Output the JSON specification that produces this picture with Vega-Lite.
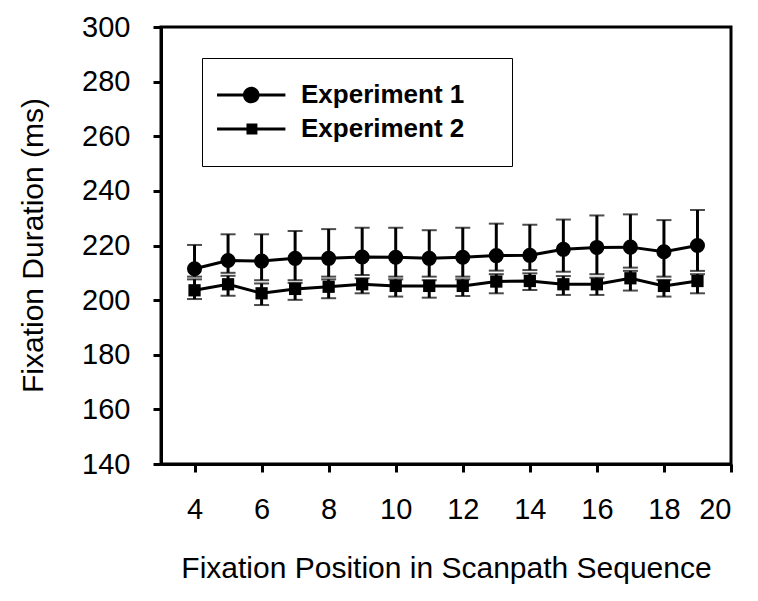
{
  "$schema": "https://vega.github.io/schema/vega-lite/v6.json",
  "width": 570,
  "height": 437,
  "autosize": {"type": "none"},
  "padding": {"left": 161, "top": 27, "right": 27, "bottom": 137},
  "background": "white",
  "config": {
    "view": {"stroke": "black", "strokeWidth": 3},
    "font": "Liberation Sans",
    "axis": {
      "grid": false,
      "domainColor": "black",
      "domainWidth": 3,
      "tickColor": "black",
      "tickWidth": 3,
      "tickSize": 8,
      "labelFont": "Liberation Sans",
      "labelFontSize": 29,
      "labelColor": "black",
      "labelPadding": 23,
      "titleFont": "Liberation Sans",
      "titleFontSize": 30,
      "titleFontWeight": "normal",
      "titleColor": "black"
    }
  },
  "data": {
    "values": [
      {"pos": 4, "series": "Experiment 1", "mean": 211.5, "lo": 208.6, "hi": 220.2},
      {"pos": 5, "series": "Experiment 1", "mean": 214.5, "lo": 210.0, "hi": 224.1},
      {"pos": 6, "series": "Experiment 1", "mean": 214.3, "lo": 207.3, "hi": 224.1},
      {"pos": 7, "series": "Experiment 1", "mean": 215.3, "lo": 207.3, "hi": 225.3},
      {"pos": 8, "series": "Experiment 1", "mean": 215.3, "lo": 208.6, "hi": 226.0},
      {"pos": 9, "series": "Experiment 1", "mean": 215.8, "lo": 209.2, "hi": 226.5},
      {"pos": 10, "series": "Experiment 1", "mean": 215.7, "lo": 208.6, "hi": 226.5},
      {"pos": 11, "series": "Experiment 1", "mean": 215.3, "lo": 208.6, "hi": 225.6},
      {"pos": 12, "series": "Experiment 1", "mean": 215.7, "lo": 208.6, "hi": 226.5},
      {"pos": 13, "series": "Experiment 1", "mean": 216.3, "lo": 210.8, "hi": 228.0},
      {"pos": 14, "series": "Experiment 1", "mean": 216.4, "lo": 211.0, "hi": 227.6},
      {"pos": 15, "series": "Experiment 1", "mean": 218.6, "lo": 210.4, "hi": 229.5},
      {"pos": 16, "series": "Experiment 1", "mean": 219.3, "lo": 209.5, "hi": 231.0},
      {"pos": 17, "series": "Experiment 1", "mean": 219.4, "lo": 211.9, "hi": 231.4},
      {"pos": 18, "series": "Experiment 1", "mean": 217.7, "lo": 208.6, "hi": 229.3},
      {"pos": 19, "series": "Experiment 1", "mean": 220.0, "lo": 210.7, "hi": 233.0},
      {"pos": 4, "series": "Experiment 2", "mean": 203.6, "lo": 200.4, "hi": 207.6},
      {"pos": 5, "series": "Experiment 2", "mean": 205.8, "lo": 201.6, "hi": 208.9},
      {"pos": 6, "series": "Experiment 2", "mean": 202.5, "lo": 198.2, "hi": 206.1},
      {"pos": 7, "series": "Experiment 2", "mean": 204.1, "lo": 200.1, "hi": 206.3},
      {"pos": 8, "series": "Experiment 2", "mean": 204.9, "lo": 200.7, "hi": 207.6},
      {"pos": 9, "series": "Experiment 2", "mean": 205.8, "lo": 202.5, "hi": 208.0},
      {"pos": 10, "series": "Experiment 2", "mean": 205.2, "lo": 201.3, "hi": 207.6},
      {"pos": 11, "series": "Experiment 2", "mean": 205.2, "lo": 200.9, "hi": 207.3},
      {"pos": 12, "series": "Experiment 2", "mean": 205.2, "lo": 201.5, "hi": 207.6},
      {"pos": 13, "series": "Experiment 2", "mean": 206.8, "lo": 202.5, "hi": 209.5},
      {"pos": 14, "series": "Experiment 2", "mean": 207.0, "lo": 203.7, "hi": 209.8},
      {"pos": 15, "series": "Experiment 2", "mean": 205.8, "lo": 201.9, "hi": 208.8},
      {"pos": 16, "series": "Experiment 2", "mean": 205.8, "lo": 201.9, "hi": 208.2},
      {"pos": 17, "series": "Experiment 2", "mean": 208.0, "lo": 203.5, "hi": 210.7},
      {"pos": 18, "series": "Experiment 2", "mean": 205.2, "lo": 201.3, "hi": 207.4},
      {"pos": 19, "series": "Experiment 2", "mean": 207.0, "lo": 202.5, "hi": 209.5}
    ]
  },
  "encoding": {
    "x": {
      "field": "pos",
      "type": "quantitative",
      "scale": {"domain": [3, 20], "nice": false, "zero": false},
      "axis": {
        "values": [4, 6, 8, 10, 12, 14, 16, 18, 20],
        "title": "Fixation Position in Scanpath Sequence",
        "titleBaseline": "alphabetic",
        "titleY": 113
      }
    }
  },
  "layer": [
    {
      "mark": {"type": "line", "color": "black", "strokeWidth": 3},
      "encoding": {
        "y": {
          "field": "mean",
          "type": "quantitative",
          "title": "Fixation Duration (ms)",
          "scale": {"domain": [140, 300], "nice": false, "zero": false},
          "axis": {
            "values": [140, 160, 180, 200, 220, 240, 260, 280, 300],
            "title": "Fixation Duration (ms)",
            "titleBaseline": "alphabetic",
            "titleX": -119,
            "titleY": 218
          }
        },
        "detail": {"field": "series"}
      }
    },
    {
      "mark": {
        "type": "errorbar",
        "color": "black",
        "ticks": {"size": 15, "thickness": 2, "color": "black"},
        "rule": {"strokeWidth": 3, "color": "black"}
      },
      "encoding": {
        "y": {"field": "lo", "type": "quantitative", "title": "Fixation Duration (ms)"},
        "y2": {"field": "hi"},
        "detail": {"field": "series"}
      }
    },
    {
      "transform": [{"filter": "datum.series === 'Experiment 1'"}],
      "mark": {"type": "point", "shape": "circle", "filled": true, "color": "black", "opacity": 1, "size": 227},
      "encoding": {"y": {"field": "mean", "type": "quantitative", "title": "Fixation Duration (ms)"}}
    },
    {
      "transform": [{"filter": "datum.series === 'Experiment 2'"}],
      "mark": {"type": "point", "shape": "square", "filled": true, "color": "black", "opacity": 1, "size": 150},
      "encoding": {"y": {"field": "mean", "type": "quantitative", "title": "Fixation Duration (ms)"}}
    },
    {
      "mark": {"type": "point", "filled": true, "color": "black", "opacity": 0},
      "encoding": {
        "y": {"field": "mean", "type": "quantitative", "title": "Fixation Duration (ms)"},
        "shape": {
          "field": "series",
          "type": "nominal",
          "scale": {
            "domain": ["Experiment 1", "Experiment 2"],
            "range": [
              "M-1.69,-0.115H3.57V0.115H-1.69ZM0.306,0A0.64,0.64,0,1,1,1.586,0A0.64,0.64,0,1,1,0.306,0ZM19.09,0",
              "M-1.69,-0.115H3.57V0.115H-1.69ZM0.576,-0.42H1.416V0.42H0.576ZM19.09,0"
            ]
          },
          "legend": {
            "title": null,
            "orient": "none",
            "legendX": 41,
            "legendY": 31,
            "padding": 24,
            "strokeColor": "black",
            "fillColor": "white",
            "symbolSize": 676,
            "symbolStrokeWidth": 0,
            "symbolFillColor": "black",
            "symbolStrokeColor": "black",
            "symbolOpacity": 1,
            "labelFont": "Liberation Sans",
            "labelFontSize": 26,
            "labelFontWeight": "bold",
            "labelColor": "black",
            "labelOffset": 49,
            "labelLimit": 400,
            "rowPadding": 8,
            "encode": {
              "legend": {"update": {"strokeWidth": {"value": 3}}},
              "symbols": {"update": {"fill": {"value": "black"}, "opacity": {"value": 1}}}
            }
          }
        }
      }
    }
  ]
}
